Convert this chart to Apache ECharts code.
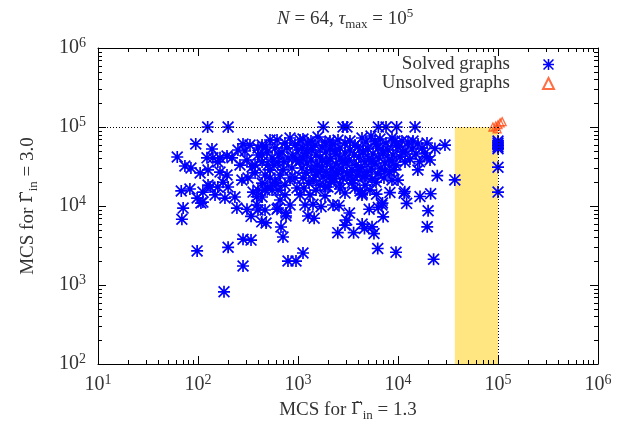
<!DOCTYPE html>
<html>
<head>
<meta charset="utf-8">
<script src="https://cdn.jsdelivr.net/npm/echarts@6/dist/echarts.min.js"></script>
<style>
html, body { margin: 0; padding: 0; background: #fff; }
#main { width: 623px; height: 425px; }
</style>
</head>
<body>
<div id="main"></div>
<script>
var myChart = echarts.init(document.getElementById('main'));

var serif = 'Liberation Serif';
var txtColor = '#333';

var tauMax = 1e5;        // cut-off of the simulation
var shadeFrom = 37000;   // left edge of the yellow band

// decades that get minor ticks (2..9 times each)
var xDecades = [10, 100, 1000, 10000, 100000];
var yDecades = [100, 1000, 10000, 100000];
var minorMult = [2, 3, 4, 5, 6, 7, 8, 9];

// solved graphs [MCS at 1.3, MCS at 3.0]
var solvedSparse = [
    [62, 41700], [95, 61000], [138, 52700], [74, 32100], [85, 30300], [105, 26200],
    [68, 15500], [83, 16400], [98, 12600], [112, 11200], [71, 9400], [69, 6800],
    [98, 2700], [200, 3000], [282, 1740], [182, 820], [245, 9400], [309, 9100],
    [398, 8900], [339, 7400], [479, 6100], [282, 3800], [339, 3700], [617, 9100]
];
var solvedLeft = [
    [123, 40700], [141, 40700], [158, 36100], [166, 40700], [195, 43000], [219, 40700],
    [251, 51200], [282, 61000], [295, 49700], [126, 28600], [166, 26900], [195, 24700],
    [178, 20000], [126, 18400], [112, 15000], [132, 17400], [158, 17400], [200, 17400],
    [148, 13800], [186, 12600], [107, 10900], [275, 21300], [316, 22600], [372, 26200],
    [355, 15000], [398, 15900], [437, 13000], [389, 10300], [468, 8900], [468, 15900],
    [234, 13000], [263, 33000], [309, 38200], [347, 31200], [398, 44200], [437, 59100],
    [490, 48300], [398, 54200], [479, 55800], [437, 44200], [575, 33000], [646, 44200],
    [776, 54200], [891, 41700], [724, 36100], [525, 28600], [832, 22600], [631, 15900],
    [437, 19500], [603, 19500], [372, 33000], [331, 59100], [386, 13100], [434, 6300]
];
var solvedMid = [
    [525, 68400], [589, 54200], [550, 40500], [501, 33000], [631, 36100], [692, 48300],
    [741, 62700], [832, 72600], [794, 40500], [871, 30300], [661, 24700], [589, 20100],
    [525, 22600], [741, 18400], [933, 22600], [1000, 51200], [955, 38200], [437, 36100],
    [468, 24700], [550, 15900], [741, 13800], [832, 10300], [661, 11900], [1047, 13800],
    [1047, 68400], [933, 59100], [617, 68400], [708, 28600], [501, 17400], [977, 16900]
];
var solvedLow = [
    [676, 5420], [708, 4050], [759, 7470], [794, 2010], [955, 2010], [1122, 2540],
    [1259, 7470], [1175, 10300], [1413, 10500], [1700, 9800], [2239, 10300], [2570, 10100],
    [1450, 7000], [631, 9440], [759, 8150], [5150, 9100], [6350, 9600], [7000, 10900],
    [7100, 7300], [12200, 10800], [20000, 8700], [3270, 8150], [3070, 6650], [2950, 5740],
    [2500, 4600], [3600, 4600], [4380, 5900], [4620, 5200], [5500, 5450], [5750, 4480],
    [19600, 5450], [6270, 2900], [9550, 2600], [22700, 2120]
];
var solvedRight = [
    [29500, 59000], [24700, 24200], [37000, 21400], [21200, 14300], [16600, 13200],
    [11500, 14500], [8300, 14800], [6100, 14100], [4400, 14500], [4170, 15500],
    [6900, 10300], [8300, 27000], [10000, 21300], [8700, 21300], [23400, 53500],
    [15800, 28600], [16400, 36400], [20900, 38200], [19500, 41800], [1900, 17600],
    [11700, 15200]
];
var solvedCore = [
    [1122, 70500], [1585, 74700], [2512, 68400], [4365, 72600], [5370, 76900], [6607, 70500],
    [8710, 72600], [10960, 66500],
    [1349, 66500], [2089, 66500], [3311, 66500], [5888, 66500], [9333, 66500], [14130, 66500],
    [1259, 62700], [1479, 59100], [1862, 64600], [2239, 60900], [2951, 62700], [3715, 59100],
    [4786, 64600], [6026, 60900], [7586, 62700], [9550, 59100], [12590, 64600], [15850, 60900],
    [19500, 62700],
    [1096, 54200], [1380, 51200], [1738, 55800], [2089, 52700], [2630, 54200], [3311, 51200],
    [3981, 55800], [5012, 52700], [6310, 54200], [7943, 51200], [10000, 55800], [13800, 52700],
    [17380, 54200],
    [1230, 49700], [2344, 49700], [4467, 49700], [7079, 49700], [11750, 49700],
    [1202, 46900], [1514, 44200], [1905, 48300], [2399, 45500], [2951, 46900], [3631, 44200],
    [4467, 48300], [5623, 45500], [7079, 46900], [8913, 44200], [11220, 48300], [15140, 45500],
    [18620, 46900],
    [1122, 40500], [1349, 38200], [1660, 41700], [2089, 39400], [2630, 40500], [3236, 38200],
    [4074, 41700], [5129, 39400], [6457, 40500], [8128, 38200], [10470, 41700], [13180, 39400],
    [1047, 37100], [1738, 37100], [2818, 37100], [5495, 37100], [8710, 37100],
    [1230, 35000], [1549, 33000], [1950, 36100], [2399, 34000], [3020, 35000], [3802, 33000],
    [4677, 36100], [5888, 34000], [7413, 35000], [9550, 33000], [11750, 36100],
    [1096, 30300], [1380, 28600], [1738, 31200], [2188, 29400], [2754, 30300], [3467, 28600],
    [4266, 31200], [5370, 29400], [6761, 30300], [9120, 28600],
    [1585, 27700], [2512, 27700], [4169, 27700], [7413, 27700],
    [1202, 26200], [1514, 24700], [1905, 26900], [2399, 25400], [3090, 26200], [3890, 24700],
    [4898, 26900], [6310, 25400],
    [2089, 24000], [3311, 24000], [4677, 24000],
    [1122, 22600], [1413, 21300], [1778, 23300], [2291, 22000], [2818, 22600], [3548, 21300],
    [4467, 23300], [5495, 22000], [7244, 22600],
    [1288, 19500], [1660, 18400], [2138, 20100], [2630, 19000], [3467, 19500], [4677, 18400],
    [6026, 20100],
    [1148, 16900], [1514, 15900], [1995, 17400], [2630, 16400], [3715, 16900], [5248, 15900],
    [1318, 13800], [1862, 13400], [2951, 14600], [4365, 13800]
];
// runs that hit tau_max at 3.0
var solvedTop = [
    [125, 100000], [200, 100000], [1790, 100000], [2820, 100000], [3090, 100000],
    [6360, 100000], [7590, 100000], [9700, 100000], [14800, 100000]
];
// runs that hit tau_max at 1.3
var solvedCapped = [
    [100000, 66500], [100000, 62700], [100000, 59100], [100000, 55800], [100000, 53000],
    [100000, 31000], [100000, 15000]
];
var unsolved = [
    [89000, 100000], [95000, 103000], [100000, 107000], [105000, 113000], [110000, 117000],
    [98000, 95000]
];

var solved = [].concat(solvedSparse, solvedLeft, solvedMid, solvedLow, solvedRight,
    solvedCore, solvedTop, solvedCapped);

var xMinor = [];
xDecades.forEach(function (d) { minorMult.forEach(function (m) { xMinor.push([d * m, 1000]); }); });
var yMinor = [];
yDecades.forEach(function (d) { minorMult.forEach(function (m) { yMinor.push([100, d * m]); }); });

var starPath = 'path://M4.3,0L5.7,0L5.7,10L4.3,10Z M0,4.3L10,4.3L10,5.7L0,5.7Z ' +
    'M1,0L10,9L9,10L0,1Z M9,0L10,1L1,10L0,9Z';

var tickRich = {
    b: { fontFamily: serif, fontSize: 20, lineHeight: 24, color: txtColor },
    s: { fontFamily: serif, fontSize: 14, lineHeight: 14, verticalAlign: 'top', color: txtColor }
};
var nameRich = {
    b: { fontFamily: serif, fontSize: 19, lineHeight: 24, color: txtColor },
    g: { fontFamily: 'DejaVu Serif', fontSize: 17, lineHeight: 24, color: txtColor },
    sub: { fontFamily: serif, fontSize: 13, lineHeight: 13, verticalAlign: 'bottom', color: txtColor }
};

function powLabel(v) {
    var e = Math.round(Math.log(v) / Math.LN10);
    return '{b|10}{s|' + e + '}';
}

// minor ticks, drawn inward on both sides of the frame
function minorTicks(isX) {
    return function (params, api) {
        var cs = params.coordSys;
        var len = 4;
        var st = { stroke: '#000', lineWidth: 1 };
        if (isX) {
            var px = Math.round(api.coord([api.value(0), 1000])[0]) + 0.5;
            return { type: 'group', children: [
                { type: 'line', shape: { x1: px, y1: cs.y + cs.height, x2: px, y2: cs.y + cs.height - len }, style: st },
                { type: 'line', shape: { x1: px, y1: cs.y, x2: px, y2: cs.y + len }, style: st }
            ] };
        }
        var py = Math.round(api.coord([100, api.value(1)])[1]) + 0.5;
        return { type: 'group', children: [
            { type: 'line', shape: { x1: cs.x, y1: py, x2: cs.x + len, y2: py }, style: st },
            { type: 'line', shape: { x1: cs.x + cs.width, y1: py, x2: cs.x + cs.width - len, y2: py }, style: st }
        ] };
    };
}

var frameAxis = {
    type: 'log', logBase: 10,
    axisLine: { show: true, onZero: false, lineStyle: { color: '#000', width: 1 } },
    axisTick: { show: true, inside: true, length: 8, lineStyle: { color: '#000', width: 1 } },
    splitLine: { show: false },
    minorTick: { show: false }
};

var myOption = {
    animation: false,
    backgroundColor: '#fff',
    title: {
        text: '{i|N} = 64, {i|τ}{sub|max} = 10{sup|5}',
        left: 272, top: 2,
        textStyle: {
            fontFamily: serif, fontSize: 19, fontWeight: 'normal', color: txtColor, lineHeight: 24,
            rich: {
                i: { fontFamily: serif, fontSize: 19, fontStyle: 'italic', lineHeight: 24, color: txtColor },
                sub: { fontFamily: serif, fontSize: 13, lineHeight: 13, verticalAlign: 'bottom', color: txtColor },
                sup: { fontFamily: serif, fontSize: 13, lineHeight: 13, verticalAlign: 'top', color: txtColor }
            }
        }
    },
    legend: {
        data: ['Solved graphs', 'Unsolved graphs'],
        orient: 'vertical', align: 'right',
        right: 63, top: 50,
        itemWidth: 11, itemHeight: 11, itemGap: 0,
        selectedMode: false,
        textStyle: { fontFamily: serif, fontSize: 19, lineHeight: 18, color: txtColor, padding: [0, 28, 0, 0] }
    },
    grid: { left: 98, right: 25, top: 48, bottom: 61, outerBoundsMode: 'none', containLabel: false },
    xAxis: [
        echarts.util.merge({
            position: 'bottom', min: 10, max: 1e6,
            name: 'MCS for {g|Γ̃}{sub|in}{b| = 1.3}', nameLocation: 'middle', nameGap: 34,
            nameTextStyle: { fontFamily: serif, fontSize: 19, color: txtColor, rich: nameRich },
            axisLabel: { margin: 9, formatter: powLabel, rich: tickRich }
        }, frameAxis),
        echarts.util.merge({
            position: 'top', min: 10, max: 1e6, axisLabel: { show: false }
        }, frameAxis)
    ],
    yAxis: [
        echarts.util.merge({
            position: 'left', min: 100, max: 1e6,
            name: 'MCS for {g|Γ̃}{sub|in}{b| = 3.0}', nameLocation: 'middle', nameGap: 58,
            nameTextStyle: { fontFamily: serif, fontSize: 19, color: txtColor, rich: nameRich },
            axisLabel: { margin: 12, formatter: powLabel, rich: tickRich }
        }, frameAxis),
        echarts.util.merge({
            position: 'right', min: 100, max: 1e6, axisLabel: { show: false }
        }, frameAxis)
    ],
    series: [
        {
            name: 'shade',
            type: 'line',
            data: [],
            z: 1,
            markArea: {
                silent: true,
                itemStyle: { color: '#ffe680', opacity: 1 },
                data: [[{ coord: [shadeFrom, 100] }, { coord: [tauMax, tauMax] }]]
            },
            markLine: {
                silent: true,
                symbol: 'none',
                label: { show: false },
                lineStyle: { color: '#000', width: 1, type: [1, 2] },
                data: [
                    [{ coord: [10, tauMax] }, { coord: [tauMax, tauMax] }],
                    [{ coord: [tauMax, tauMax] }, { coord: [tauMax, 100] }]
                ]
            }
        },
        {
            name: 'xMinor', type: 'custom', silent: true, z: 2,
            renderItem: minorTicks(true), data: xMinor
        },
        {
            name: 'yMinor', type: 'custom', silent: true, z: 2,
            renderItem: minorTicks(false), data: yMinor
        },
        {
            name: 'Solved graphs',
            type: 'scatter',
            z: 3,
            symbol: starPath,
            symbolSize: 12,
            itemStyle: { color: '#0000ff', opacity: 1 },
            data: solved
        },
        {
            name: 'Unsolved graphs',
            type: 'scatter',
            z: 4,
            symbol: 'triangle',
            symbolSize: 8,
            itemStyle: { color: 'rgba(255,255,255,0)', borderColor: '#ff4a14', borderWidth: 1.3 },
            data: unsolved
        }
    ]
};

myChart.setOption(myOption);
</script>
</body>
</html>
